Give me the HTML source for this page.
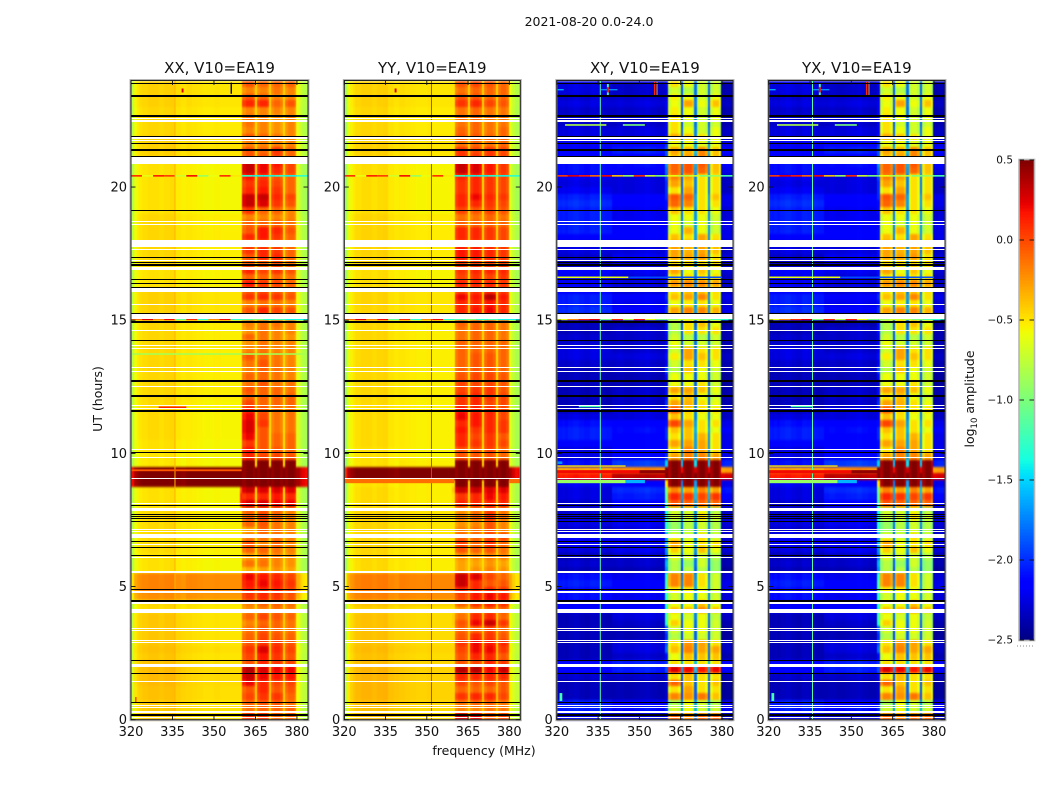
<!DOCTYPE html>
<html lang="en">
<head>
<meta charset="utf-8">
<title>2021-08-20 0.0-24.0</title>
<style>
html,body{margin:0;padding:0;background:#fff;width:1050px;height:800px;overflow:hidden}
svg{display:block}
text{font-family:"DejaVu Sans","Liberation Sans",sans-serif;fill:#111}
</style>
</head>
<body>
<svg id="figure" xmlns="http://www.w3.org/2000/svg" width="1050" height="800" viewBox="0 0 1050 800">
  <defs>
    <filter id="cell-soften" filterUnits="userSpaceOnUse" x="120" y="70" width="840" height="660" color-interpolation-filters="sRGB">
      <feGaussianBlur stdDeviation="0.6 1" edgeMode="duplicate"/>
    </filter>
  </defs>
  <rect x="0" y="0" width="1050" height="800" fill="#fff"/>
  <text x="589" y="26" font-size="12.5" text-anchor="middle">2021-08-20 0.0-24.0</text>
  <text x="484" y="755" font-size="12.5" text-anchor="middle">frequency (MHz)</text>
  <text x="0" y="0" font-size="12.5" text-anchor="middle" transform="translate(102,399) rotate(-90)">UT (hours)</text>
  <text x="0" y="0" font-size="12.5" text-anchor="middle" transform="translate(974,399) rotate(-90)">log<tspan font-size="8.5" dy="3">10</tspan><tspan dy="-3"> amplitude</tspan></text>
  <g id="panels"></g>
  <g id="colorbar"></g>
</svg>
<script>
// Channel edges in MHz and the row-level column that each channel reads from.
const freqEdges = [320,321,322,323,324,326,328,330,332,334,336,338,340,342,344,346,348,350,352,354,356,359.3,360.3,361.5,364,365,365.7,366.7,369,370,370.8,371.8,374,375,375.8,376.8,378.8,379.8,381,382,383,384];
const channelGroup = [0,0,0,0,0,0,0,0,0,0,0,0,1,1,1,1,1,1,1,1,1,6,2,2,2,1,3,3,3,1,4,4,4,1,5,5,5,1,1,1,1];

// Spectral offsets per channel (log10 amplitude).
const shapeXX = [-.3,-.1,-.05,-.02,0,.02,.02,0,.02,.03,-.02,-.04,.03,.02,.01,0,0,.01,0,0,0,0,-.05,.02,-.05,.05,-.05,.02,-.05,.05,-.05,.02,-.05,.05,-.05,.02,-.05,-.1,-.2,-.27,-.3];
const shapeYY = [-.42,-.15,-.07,-.03,0,.02,.02,0,.02,.03,-.02,-.04,.03,.02,.01,0,0,.01,0,0,0,0,-.05,.02,-.05,.05,-.05,.02,-.05,.05,-.05,.02,-.05,.05,-.05,.02,-.05,-.1,-.22,-.3,-.28];
const shapeCross = [-.04,-.07,-.05,-.07,-.04,-.02,-.05,-.07,-.03,-.04,-.06,-.07,-.07,-.05,-.07,-.07,-.05,-.04,-.02,-.05,-.07,0,-.12,.02,-.08,.35,-.08,.02,-.1,.45,-.1,.02,-.1,.4,-.1,.02,-.15,-.15,-.12,-.12,-.12];

// One row per 0.25 h from 0 UT: [low 320-340, low 340-384, block1, block2, block3, block4, shoulder 358-360]
const levelsXX = [
[-.43,-.5,.05,.05,-.1,-.1,-.5],[-.43,-.5,-.15,-.1,-.1,-.1,-.5],[-.42,-.5,-.1,-.05,-.05,-.15,-.5],[-.4,-.48,0,.05,.05,-.1,-.48],
[-.4,-.48,-.05,.1,-.05,-.05,-.48],[-.38,-.47,.2,.1,0,0,-.47],[-.38,-.47,.3,.2,.15,.15,-.47],[-.38,-.47,.35,.25,.2,.2,-.47],
[-.4,-.48,-.05,.1,.05,0,-.48],[-.42,-.5,0,.15,.05,-.05,-.5],[-.4,-.48,.05,.25,.1,0,-.48],[-.42,-.5,-.05,.05,.05,-.05,-.5],
[-.42,-.5,-.1,0,-.05,-.1,-.5],[-.42,-.5,-.15,-.05,-.1,-.15,-.5],[-.42,-.5,-.2,-.1,-.1,-.15,-.5],[-.42,-.5,-.1,0,-.05,-.1,-.5],
[-.48,-.52,-.25,-.2,-.15,-.2,-.52],[-.48,-.52,-.2,-.1,-.1,-.15,-.52],[-.24,-.26,.05,.1,.05,-.05,-.26],[-.2,-.22,.1,.1,.1,0,-.22],
[-.2,-.22,.15,.2,.15,.05,-.22],[-.2,-.22,.2,.15,.1,0,-.22],[-.5,-.56,-.35,-.3,-.25,-.3,-.56],[-.5,-.56,-.15,-.15,-.2,-.25,-.56],
[-.5,-.55,-.3,-.2,-.2,-.25,-.55],[-.48,-.54,-.1,-.1,-.15,-.2,-.54],[-.48,-.54,-.05,-.2,-.1,-.2,-.54],[-.48,-.54,-.2,-.15,-.15,-.2,-.54],
[-.48,-.54,-.3,-.1,-.15,-.2,-.54],[-.48,-.54,-.1,-.05,-.15,-.2,-.54],[-.48,-.54,-.1,0,-.1,-.2,-.54],[-.48,-.54,-.1,-.05,-.1,-.2,-.54],
[-.5,-.56,.25,.25,.2,.2,.1],[-.5,-.56,.1,.1,.15,.1,.1],[-.5,-.56,.3,.25,.25,.25,-.05],[.5,.5,.5,.5,.5,.5,.5],
[.5,.5,.5,.5,.5,.5,.5],[.5,.5,.5,.5,.5,.5,.5],[-.52,-.56,.5,.5,.5,.5,-.56],[-.52,-.56,.1,0,0,-.05,-.56],
[-.5,-.56,.15,-.05,-.05,-.1,-.56],[-.5,-.56,.05,-.05,-.1,-.1,-.56],[-.48,-.55,.2,-.05,-.1,-.1,-.55],[-.48,-.55,.25,-.05,-.15,-.15,-.55],
[-.48,-.55,.25,.05,-.15,-.15,-.55],[-.48,-.55,.2,0,-.15,-.15,-.55],[-.48,-.55,.1,-.05,-.15,-.15,-.55],[-.48,-.55,0,-.1,-.1,-.1,-.55],
[-.47,-.53,-.1,-.1,-.1,-.1,-.53],[-.47,-.53,-.05,-.1,-.1,-.15,-.53],[-.47,-.53,-.15,-.05,-.15,-.15,-.53],[-.47,-.53,-.1,-.1,-.15,-.2,-.53],
[-.47,-.53,-.2,-.1,-.15,-.2,-.53],[-.47,-.53,-.15,-.05,-.15,-.2,-.53],[-.47,-.53,-.05,-.1,-.15,-.2,-.53],[-.47,-.53,-.2,-.15,-.2,-.2,-.53],
[-.47,-.53,-.25,-.15,-.2,-.2,-.53],[-.47,-.53,-.1,-.15,-.2,-.25,-.53],[-.47,-.53,-.25,-.15,-.2,-.2,-.53],[-.47,-.53,-.2,-.15,-.15,-.2,-.53],
[-.47,-.52,-.3,-.2,-.2,-.25,-.52],[-.45,-.5,-.05,.1,0,-.05,-.5],[-.45,-.5,-.2,-.15,-.15,-.2,-.5],[-.45,-.5,.05,.1,.05,-.05,-.5],
[-.45,-.5,-.05,0,-.05,-.1,-.5],[-.5,-.55,.15,.05,0,-.1,-.55],[-.5,-.55,-.1,-.1,-.1,-.15,-.55],[-.5,-.55,.1,0,.05,-.05,-.55],
[-.47,-.53,-.1,-.1,-.05,-.15,-.53],[-.47,-.53,-.05,.1,.1,-.1,-.53],[-.47,-.53,.05,.1,.05,-.1,-.53],[-.47,-.53,-.1,-.1,-.1,-.15,-.53],
[-.47,-.53,.1,.15,.05,-.1,-.53],[-.47,-.53,-.05,.15,.1,-.05,-.53],[-.47,-.53,-.1,-.1,-.1,-.15,-.53],[-.47,-.53,-.2,-.2,-.2,-.2,-.53],
[-.5,-.56,.05,-.1,-.1,-.2,-.56],[-.5,-.56,.3,.25,.05,-.05,-.56],[-.5,-.56,.3,.3,.1,0,-.56],[-.5,-.56,.1,.15,.05,-.1,-.56],
[-.5,-.56,.05,.1,0,-.1,-.56],[-.5,-.56,.15,.05,-.05,-.1,-.56],[-.5,-.56,.3,.2,.1,0,-.56],[-.5,-.56,.3,.2,.15,0,-.56],
[-.45,-.5,-.05,-.05,0,-.1,-.5],[-.45,-.5,-.05,-.1,.05,-.1,-.5],[-.45,-.5,-.2,-.2,-.2,-.2,-.5],[-.45,-.5,-.05,-.1,-.15,-.2,-.5],
[-.47,-.52,-.2,-.2,-.25,-.2,-.52],[-.47,-.52,-.15,-.2,-.25,-.2,-.52],[-.47,-.52,-.15,-.2,-.25,-.2,-.52],[-.47,-.52,-.2,-.2,-.2,-.2,-.52],
[-.45,-.5,.1,.1,-.1,-.05,-.5],[-.45,-.5,-.05,-.1,-.2,-.2,-.5],[-.45,-.5,-.2,-.2,-.15,-.2,-.5],[-.45,-.5,-.05,-.1,-.1,-.1,-.5]
];
const levelsYY = [
[-.4,-.47,.3,.25,-.05,0,-.47],[-.4,-.47,-.2,-.2,-.15,-.15,-.47],[-.38,-.45,-.15,-.1,-.1,-.15,-.45],[-.36,-.44,.05,.1,.1,0,-.44],
[-.36,-.44,-.1,-.1,-.1,-.05,-.44],[-.36,-.44,0,-.05,0,-.05,-.44],[-.36,-.44,.1,.1,.1,.1,-.44],[-.36,-.44,.35,.35,.2,.3,-.44],
[-.38,-.45,-.05,0,.1,.05,-.45],[-.4,-.47,-.05,.1,.1,-.05,-.47],[-.38,-.45,0,.2,.2,.05,-.45],[-.4,-.47,.05,.2,.15,.1,-.47],
[-.4,-.47,-.05,.1,.05,-.05,-.47],[-.4,-.47,-.1,-.1,0,-.1,-.47],[-.4,-.47,-.05,.2,.3,.05,-.42],[-.4,-.47,-.15,.1,.1,-.1,-.42],
[-.46,-.5,-.3,-.15,-.1,-.1,-.5],[-.42,-.45,-.1,.05,.1,.05,-.45],[-.2,-.22,0,.15,.2,.15,-.22],[-.18,-.2,.1,.1,.1,.05,-.2],
[-.18,-.2,.3,.1,-.05,-.05,-.2],[-.18,-.2,.3,.25,0,-.1,-.2],[-.48,-.53,-.3,-.25,-.2,-.25,-.53],[-.48,-.53,-.3,-.3,-.25,-.3,-.53],
[-.47,-.52,-.25,-.25,-.2,-.2,-.52],[-.47,-.52,-.05,-.1,-.05,-.15,-.52],[-.46,-.5,0,-.1,.05,-.1,-.5],[-.46,-.5,-.1,-.1,0,0,-.5],
[-.46,-.5,-.2,-.15,-.05,-.2,-.5],[-.46,-.5,-.25,-.2,-.05,-.2,-.5],[-.46,-.5,-.2,-.1,.05,-.15,-.5],[-.46,-.5,-.25,-.15,0,-.15,-.5],
[-.48,-.53,.1,.1,.1,.1,-.48],[-.48,-.53,.05,.1,.2,.15,-.48],[-.48,-.53,.3,.3,.25,.25,-.4],[-.5,-.53,.5,.5,.5,.5,-.5],
[.5,.5,.5,.5,.5,.5,.5],[.5,.5,.5,.5,.5,.5,.5],[-.5,-.53,.5,.5,.5,.5,-.53],[-.5,-.55,-.05,-.05,-.05,-.1,-.55],
[-.5,-.55,-.05,-.05,0,-.1,-.55],[-.48,-.54,.1,.05,.05,0,-.54],[-.48,-.54,.1,0,.05,-.05,-.54],[-.48,-.54,.15,.05,.1,.05,-.54],
[-.48,-.54,.1,.15,.1,.05,-.54],[-.48,-.54,.2,.15,.1,0,-.54],[-.48,-.54,.15,.1,.1,0,-.54],[-.48,-.54,.05,.1,0,0,-.54],
[-.47,-.53,.05,.1,.05,0,-.53],[-.47,-.53,0,.05,.05,-.05,-.53],[-.47,-.53,0,0,0,-.05,-.53],[-.47,-.53,-.05,0,0,-.05,-.53],
[-.47,-.53,-.1,-.05,-.05,-.1,-.53],[-.47,-.53,-.1,-.05,-.05,-.1,-.53],[-.47,-.53,-.1,-.05,-.05,-.1,-.53],[-.47,-.53,-.1,-.1,-.1,-.1,-.53],
[-.47,-.53,-.1,-.1,-.1,-.1,-.53],[-.47,-.53,-.15,-.1,-.1,-.15,-.53],[-.47,-.53,-.15,-.1,-.1,-.15,-.53],[-.47,-.53,-.1,-.1,-.1,-.15,-.53],
[-.47,-.53,-.15,-.1,-.1,-.1,-.53],[-.46,-.5,.1,.15,.2,.1,-.5],[-.46,-.5,.1,.1,.15,.1,-.5],[-.46,-.5,.2,.15,.35,.15,-.5],
[-.46,-.5,0,.05,.1,.05,-.5],[-.49,-.55,.1,.1,.1,.05,-.55],[-.49,-.55,0,.05,0,.05,-.55],[-.49,-.55,.05,.1,.1,.1,-.55],
[-.46,-.52,0,0,0,0,-.52],[-.46,-.52,.15,.15,.1,.05,-.52],[-.46,-.52,.15,.15,.1,.05,-.52],[-.46,-.52,0,0,0,0,-.52],
[-.46,-.52,.1,.1,.05,0,-.52],[-.46,-.52,.1,.1,.05,0,-.52],[-.46,-.52,-.1,-.1,-.1,-.1,-.52],[-.46,-.52,-.15,-.15,-.1,-.15,-.52],
[-.49,-.55,0,-.05,0,-.05,-.55],[-.49,-.55,.1,.1,.05,0,-.55],[-.49,-.55,.1,.2,.1,.05,-.55],[-.49,-.55,.05,.1,.05,0,-.55],
[-.49,-.55,.05,.1,.05,0,-.55],[-.49,-.55,.1,.1,.05,0,-.55],[-.49,-.55,.3,.25,.15,.05,-.55],[-.49,-.55,.3,.25,.15,.05,-.55],
[-.45,-.5,.05,.05,.05,0,-.5],[-.45,-.5,.05,0,.05,0,-.5],[-.45,-.5,-.15,-.1,-.15,-.1,-.5],[-.45,-.5,-.05,-.05,-.1,-.1,-.5],
[-.47,-.52,-.1,-.1,-.15,-.1,-.52],[-.47,-.52,-.15,-.1,-.15,-.15,-.52],[-.47,-.52,-.15,-.1,-.15,-.15,-.52],[-.47,-.52,-.15,-.1,-.15,-.15,-.52],
[-.45,-.5,.05,.1,0,-.05,-.5],[-.45,-.5,-.05,-.05,-.1,-.1,-.5],[-.45,-.5,-.15,-.1,-.1,-.1,-.5],[-.45,-.5,-.05,0,-.05,-.1,-.5]
];
// The two cross-hands read the same in the picture, so XY and YX share one table.
const levelsCross = [
[-2.2,-2.25,-.1,-.2,-.1,-.1,-2.2],[-2,-2.05,-.7,-.6,-.7,-.7,-2],[-2,-2.1,-.85,-.6,-.7,-.8,-2.1],[-2.3,-2.3,-.2,-.25,-.15,-.4,-2.3],
[-2.3,-2.3,-.5,-.3,-.5,-.5,-2.3],[-2.3,-2.3,-.1,-.4,-.5,-.4,-2.3],[-2.25,-2.25,-.5,-.4,-.5,-.5,-2.2],[-2.1,-2,.25,.2,.15,.2,-1.9],
[-2.1,-2,-.5,-.5,-.5,-.5,-2],[-2.3,-2.25,-.6,-.4,-.4,-.4,-2.1],[-2.3,-2.2,-.4,-.2,-.3,-.3,-1.8],[-2.3,-2.2,-.5,-.25,-.3,-.5,-1.9],
[-2.3,-2.3,-.8,-.7,-.7,-.7,-2],[-2.3,-2.3,-.7,-.6,-.6,-.7,-1.9],[-2.3,-2.25,-.45,-.6,-.6,-.7,-1.3],[-2.3,-2.2,-.6,-.7,-.6,-.75,-1.2],
[-2.1,-2.1,-.4,-.4,-.2,-.4,-1.4],[-2.1,-2.1,-.6,-.6,-.4,-.6,-1.3],[-2.05,-2.15,-.7,-.6,-.6,-.7,-1.3],[-2.05,-2.1,-.55,-.55,-.6,-.7,-1.2],
[-2,-2.1,-.2,-.2,-.5,-.7,-1.2],[-2.05,-2.15,-.2,-.2,-.5,-.7,-1.3],[-2.3,-2.3,-.8,-.8,-.8,-.9,-1.7],[-2.25,-2.25,-.8,-.9,-.7,-.9,-1.6],
[-2.3,-2.25,-.65,-.7,-.7,-.8,-1.8],[-2.2,-2.15,-.45,-.6,-.4,-.6,-1.7],[-2.15,-2.15,-.3,-.6,-.5,-.5,-1.6],[-2.15,-2.15,-.6,-.7,-.5,-.7,-1.7],
[-2.25,-2.2,-.9,-.8,-.7,-.8,-1.3],[-2.2,-2.15,-.9,-.8,-.7,-.8,-1.3],[-2.2,-2.15,-.7,-.7,-.5,-.7,-1.3],[-2.25,-2.2,-.7,-.7,-.6,-.8,-1.4],
[-2.25,-2.1,-.05,-.1,-.1,-.1,-1.2],[-2.2,-2,.1,.05,0,.05,-1.1],[-2.2,-1.95,-.2,-.3,-.2,-.3,-1],[-2.15,-2.1,.5,.5,.5,.5,-.5],
[.2,.4,.5,.5,.5,.5,.5],[-.25,-.15,.5,.5,.5,.5,.5],[-2.05,-1.9,.5,.5,.5,.5,-1.5],[-2.2,-2.1,-.3,-.2,-.2,-.3,-2],
[-2.2,-2.1,-.5,-.2,-.3,-.5,-2.1],[-2.1,-2.1,-.3,-.3,-.3,-.5,-2.1],[-2,-2.1,-.5,-.4,-.35,-.5,-2],[-2,-2.05,-.4,-.4,-.5,-.6,-2],
[-2.05,-2.1,0,-.3,-.5,-.5,-2.1],[-2.2,-2.2,-.4,-.5,-.6,-.6,-2.2],[-2.3,-2.2,0,-.45,-.5,-.5,-2.2],[-2.3,-2.25,-.3,-.35,-.5,-.6,-2],
[-2.3,-2.25,-.5,-.4,-.6,-.7,-2.1],[-2.3,-2.25,-.3,-.3,-.4,-.6,-2.1],[-2.3,-2.3,-.6,-.6,-.5,-.7,-2.3],[-2.3,-2.3,-.6,-.6,-.6,-.7,-2.1],
[-2.3,-2.25,-.8,-.4,-.6,-.7,-1.9],[-2.25,-2.25,-.7,-.5,-.5,-.6,-2.2],[-2.2,-2.2,-.55,-.3,-.4,-.5,-2.1],[-2.2,-2.25,-.7,-.3,-.5,-.5,-2.2],
[-2.25,-2.25,-.6,-.7,-.7,-.7,-2.2],[-2.25,-2.25,-.7,-.8,-.8,-.7,-2.2],[-2.3,-2.25,-.8,-.5,-.5,-.5,-2.1],[-2.3,-2.3,-.8,-.5,-.4,-.6,-2.1],
[-2.3,-2.3,-.5,-.5,-.5,-.5,-2.2],[-1.95,-2.1,-.3,-.2,-.2,-.35,-2],[-2,-2.15,-.6,-.55,-.5,-.6,-2.1],[-2,-2.1,-.4,-.3,-.2,-.5,-2],
[-2.1,-2.2,-.5,-.4,-.4,-.5,-2.1],[-2.15,-2.2,-.25,-.2,-.2,-.3,-2.1],[-2.15,-2.2,-.5,-.5,-.5,-.5,-2.1],[-2.1,-2.15,-.3,-.6,-.4,-.6,-2.1],
[-2.3,-2.2,-.5,-.5,-.5,-.5,-2.2],[-2.25,-2.15,-.3,-.3,-.25,-.5,-2.1],[-2.2,-2.2,-.3,-.35,-.3,-.4,-2.1],[-2.2,-2.2,-.3,-.35,-.3,-.4,-2.1],
[-2.1,-2.1,-.4,-.5,-.3,-.5,-2.1],[-2,-2.1,-.6,-.35,-.6,-.7,-2.1],[-2,-2.1,-.6,-.7,-.6,-.7,-2.2],[-2,-2.15,-.6,-.6,-.6,-.7,-2.2],
[-2,-2.15,-.4,-.5,-.5,-.6,-2.1],[-1.95,-2.1,-.1,-.2,-.5,-.5,-2.1],[-2,-2.1,-.05,-.1,-.5,-.4,-2],[-2.15,-2.2,-.5,-.3,-.5,-.5,-2],
[-2.2,-2.2,-.3,-.4,-.5,-.5,-2],[-2.15,-2.2,-.2,-.3,-.5,-.5,-1.9],[-2.05,-2.1,-.1,-.05,-.1,-.4,-1.8],[-2.05,-2.05,-.1,-.05,-.05,-.4,-1.7],
[-2.1,-2.1,-.4,-.3,-.2,-.4,-1.9],[-2.1,-2,-.3,-.35,-.2,-.4,-1.9],[-2.15,-2.1,-.6,-.6,-.65,-.6,-2],[-2.2,-2.2,-.3,-.4,-.5,-.6,-2.1],
[-2.2,-2.2,-.5,-.6,-.7,-.6,-2.2],[-2.25,-2.25,-.5,-.7,-.7,-.7,-2.2],[-2.25,-2.25,-.5,-.6,-.7,-.6,-2.2],[-2.25,-2.25,-.55,-.6,-.7,-.6,-2.2],
[-2.2,-2.2,-.6,-.3,-.6,-.4,-2.2],[-2.25,-2.25,-.55,-.6,-.7,-.6,-2.25],[-2.2,-2.25,-.7,-.8,-.7,-.7,-2.25],[-2.2,-2.25,-.5,-.6,-.7,-.7,-2.2]
];

// Constant-frequency interference: [panel index, MHz, log10 amplitude]
const rfiChannels = [[0,335.9,-.34],[1,351.7,.08],[2,335.8,-1.15],[3,335.9,-1.15]];
// Localised interference: [panel index, MHz start, MHz end, UT start, UT end, log10 amplitude]
const rfiMarks = [
[0,338.3,339,23.55,23.7,.25],[1,338.3,339,23.55,23.7,.25],[0,356,356.5,23.5,23.92,-2.5],
[2,336,342,23.63,23.68,-1.7],[2,338.2,338.9,23.4,23.9,-1.2],[2,338.2,338.9,23.55,23.75,.2],[2,320.3,322.5,23.63,23.68,-1.6],[2,355.3,355.8,23.42,23.95,.1],[2,356.2,356.6,23.42,23.95,-.2],
[3,336,342,23.63,23.68,-1.7],[3,338.2,338.9,23.4,23.9,-1.2],[3,338.2,338.9,23.55,23.75,.2],[3,320.3,322.5,23.63,23.68,-1.6],[3,355.3,355.8,23.42,23.95,.1],[3,356.2,356.6,23.42,23.95,-.2],
[2,323,338,22.3,22.36,-.8],[3,323,338,22.3,22.36,-.8],[2,344,352,22.3,22.36,-1],[3,344,352,22.3,22.36,-1],
[2,320,346,16.58,16.64,-.6],[3,320,346,16.58,16.64,-.6],[2,346,380,16.58,16.64,-1.9],[3,346,380,16.58,16.64,-1.9],
[0,320,384,13.7,13.76,-.85],[0,330,340,11.7,11.76,.1],[2,328,336,11.73,11.79,-1.2],[3,328,336,11.73,11.79,-1.2],
[2,320,322,9.6,9.7,-1.7],[3,321,322,.7,1,-1.2],[2,321,322,.7,1,-1.2],[0,321.5,322,.65,.85,.05],
[0,320,360,9.33,9.4,-.05],[1,320,360,8.88,9.06,-.12],[1,380,384,8.88,9.06,-.12],
[2,320,345,8.88,9,-.9],[3,320,345,8.88,9,-.9],[2,345,352,8.88,9,-1.6],[3,345,352,8.88,9,-1.6],
[2,320,350,9.25,9.37,.2],[3,320,350,9.25,9.37,.2],[2,350,360,9.25,9.37,.45],[3,350,360,9.25,9.37,.45],
[2,320,345,9.5,9.55,-.5],[3,320,345,9.5,9.55,-.5]
];
// Noisy integrations: log10 amplitude sampled every 4 MHz, for parallel and cross hands
const noisyRowHours = [20.42,15.03];
const noisyParallel = [[.1,-.6,.15,.05,-.7,.2,-.9,-.6,.1,-.5,-1.3,-1.4,-1.4,-1.3,-1.4,-1.3],[-.1,.25,-.2,.2,-1.1,.1,-1.3,-.2,.2,-1.3,-1.2,-1,-1.3,-1.2,-1.4,-1.4]];
const noisyCross = [[.05,.25,.15,-.1,.2,-.4,-.9,.1,-.7,-1,-.6,-.8,-.7,-1,-.9,-1.2],[-.6,-.2,.1,.25,-1,.1,-.8,.15,-.6,-1,-.9,-.7,-.8,-1,-1.2,-1.3]];

// Flagged (blank) integrations: [UT start, UT end]
const whiteGaps = [[.06,.1],[.25,.31],[.43,.47],[.52,.56],[1.42,1.46],[1.97,2.1],[2.88,2.92],[2.97,3.01],[3.32,3.36],[3.41,3.45],[4.01,4.15],[4.33,4.41],[4.75,4.79],[4.81,4.85],[5.51,5.57],[6.08,6.12],[6.56,6.6],[6.82,6.97],[7.03,7.07],[7.12,7.16],[7.85,7.94],[8.1,8.14],[9.04,9.08],[9.83,9.87],[10.13,10.17],[11.66,11.7],[11.76,11.8],[12.5,12.54],[13.06,13.1],[13.19,13.23],[13.93,13.97],[14.03,14.07],[14.6,14.64],[15.03,15.26],[15.57,15.61],[16.05,16.24],[16.87,16.98],[17.23,17.27],[17.63,17.67],[17.74,18],[18.57,18.61],[18.67,18.71],[20.85,21.11],[21.71,21.75],[21.82,21.86],[22.46,22.5],[22.56,22.6]];
// Dark dropout lines: [UT centre, width in hours]
const darkLines = [[.17,.07],[.65,.05],[1.74,.05],[2.23,.05],[4.47,.08],[4.88,.05],[6.17,.05],[6.47,.05],[6.69,.05],[7.46,.05],[7.54,.05],[7.62,.05],[7.69,.05],[8.03,.05],[10.03,.05],[11.59,.08],[12.16,.08],[12.72,.08],[14.24,.05],[14.93,.08],[15.25,.05],[16.22,.05],[16.38,.05],[16.53,.05],[17.06,.08],[17.15,.05],[17.35,.05],[19.11,.05],[21.13,.05],[21.38,.08],[21.63,.05],[21.91,.05],[22.66,.08],[23.41,.08],[23.88,.04]];

// Axis tick values
const xTickValues = [320,335,350,365,380];
const yTickValues = [0,5,10,15,20];
const colorbarTickValues = [.5,0,-.5,-1,-1.5,-2,-2.5];
const colorbarTickLabels = ['0.5','0.0','\u22120.5','\u22121.0','\u22121.5','\u22122.0','\u22122.5'];

// Layout
const plotTop = 80.5, plotBottom = 719.7, freqMin = 320, freqMax = 384, utMin = 0, utMax = 24, rowStep = 0.25;
const vMin = -2.5, vMax = 0.5;
const panelConfigs = [
  {id:'xx',title:'XX, V10=EA19',left:131,right:308,levels:levelsXX,shape:shapeXX,noisy:noisyParallel},
  {id:'yy',title:'YY, V10=EA19',left:344.3,right:520.3,levels:levelsYY,shape:shapeYY,noisy:noisyParallel},
  {id:'xy',title:'XY, V10=EA19',left:556.8,right:733,levels:levelsCross,shape:shapeCross,noisy:noisyCross},
  {id:'yx',title:'YX, V10=EA19',left:768.7,right:945,levels:levelsCross,shape:shapeCross,noisy:noisyCross}
];

const SVG_NS = 'http://www.w3.org/2000/svg';
function svgEl(tag, attrs, parent){
  const el = document.createElementNS(SVG_NS, tag);
  for (const k in attrs) el.setAttribute(k, attrs[k]);
  parent.appendChild(el);
  return el;
}
const jetRed = [[0,0],[.35,0],[.66,1],[.89,1],[1,.5]];
const jetGreen = [[0,0],[.125,0],[.375,1],[.64,1],[.91,0],[1,0]];
const jetBlue = [[0,.5],[.11,1],[.34,1],[.65,0],[1,0]];
function jetChannel(anchors, t){
  for (let i = 1; i < anchors.length; i++){
    if (t <= anchors[i][0]){
      const a = anchors[i-1], b = anchors[i];
      return a[1] + (b[1]-a[1]) * (t-a[0]) / (b[0]-a[0]);
    }
  }
  return anchors[anchors.length-1][1];
}
function colorScale(v){
  const t = Math.max(0, Math.min(1, (v - vMin) / (vMax - vMin)));
  const to255 = c => Math.round(c * 255);
  return 'rgb(' + to255(jetChannel(jetRed,t)) + ',' + to255(jetChannel(jetGreen,t)) + ',' + to255(jetChannel(jetBlue,t)) + ')';
}
function yScale(ut){ return plotBottom - (ut - utMin) / (utMax - utMin) * (plotBottom - plotTop); }
function xScale(p, mhz){ return p.left + (mhz - freqMin) / (freqMax - freqMin) * (p.right - p.left); }

const panelsRoot = document.getElementById('panels');
panelConfigs.forEach(function(p, panelIndex){
  const g = svgEl('g', {}, panelsRoot);
  
  

  const cells = svgEl('g', {'shape-rendering':'crispEdges', filter:'url(#cell-soften)'}, g);
  
  
  p.levels.forEach(function(row, r){
    const y1 = Math.round(yScale(r * rowStep));
    const y0 = Math.round(yScale((r + 1) * rowStep));
    channelGroup.forEach(function(group, c){
      const x0 = Math.round(xScale(p, freqEdges[c]));
      const x1 = Math.round(xScale(p, freqEdges[c+1]));
      const cell = svgEl('rect', {x:x0, y:y0, width:x1-x0, height:y1-y0, fill:colorScale(row[group] + p.shape[c])}, cells);
      
      
    });
  });

  noisyRowHours.forEach(function(ut, n){
    const samples = p.noisy[n];
    samples.forEach(function(v, i){
      const a = freqMin + i * (freqMax - freqMin) / samples.length;
      const b = freqMin + (i + 1) * (freqMax - freqMin) / samples.length;
      const seg = svgEl('rect', {x:xScale(p,a), y:yScale(ut+.03), width:xScale(p,b)-xScale(p,a), height:yScale(ut-.03)-yScale(ut+.03), fill:colorScale(v)}, g);
      
      
    });
  });

  rfiChannels.filter(function(m){ return m[0] === panelIndex; }).forEach(function(m){
    const line = svgEl('rect', {x:xScale(p,m[1])-.5, y:plotTop, width:1, height:plotBottom-plotTop, fill:colorScale(m[2])}, g);
    
    
  });
  rfiMarks.filter(function(m){ return m[0] === panelIndex; }).forEach(function(m){
    const mark = svgEl('rect', {x:xScale(p,m[1]), y:yScale(m[4]), width:xScale(p,m[2])-xScale(p,m[1]), height:yScale(m[3])-yScale(m[4]), fill:colorScale(m[5])}, g);
    
    
  });

  whiteGaps.forEach(function(gap){
    const top = Math.round(yScale(gap[1]));
    const bottom = Math.round(yScale(gap[0]));
    const el = svgEl('rect', {x:p.left, y:top, width:p.right-p.left, height:Math.max(1, bottom-top), fill:'#fff', 'shape-rendering':'crispEdges'}, g);
    
    
  });
  darkLines.forEach(function(line){
    const px = Math.max(1, Math.round(line[1] / (utMax - utMin) * (plotBottom - plotTop)));
    const el = svgEl('rect', {x:p.left, y:Math.round(yScale(line[0]) - px / 2), width:p.right-p.left, height:px, fill:'#000', 'shape-rendering':'crispEdges'}, g);
    
    
  });

  const halo = svgEl('rect', {x:p.left-.5, y:plotTop-.5, width:p.right-p.left+1, height:plotBottom-plotTop+1, fill:'none', stroke:'#b5b5b5', 'stroke-width':2}, g);
  
  
  const frame = svgEl('rect', {x:p.left, y:plotTop, width:p.right-p.left, height:plotBottom-plotTop, fill:'none', stroke:'#222', 'stroke-width':1}, g);
  
  

  const title = svgEl('text', {x:(p.left+p.right)/2, y:73, 'font-size':15, 'text-anchor':'middle'}, g);
  title.textContent = p.title;
  
  

  xTickValues.forEach(function(v){
    const x = xScale(p, v);
    const tickB = svgEl('line', {x1:x, x2:x, y1:plotBottom, y2:plotBottom-4.5, stroke:'#111', 'stroke-width':.9}, g);
    
    
    const tickT = svgEl('line', {x1:x, x2:x, y1:plotTop, y2:plotTop+4.5, stroke:'#111', 'stroke-width':.9}, g);
    
    
    const label = svgEl('text', {x:x, y:736, 'font-size':13, 'text-anchor':'middle'}, g);
    label.textContent = String(v);
    
    
  });
  yTickValues.forEach(function(v){
    const y = yScale(v);
    const tickL = svgEl('line', {x1:p.left, x2:p.left+4.5, y1:y, y2:y, stroke:'#111', 'stroke-width':.9}, g);
    
    
    const tickR = svgEl('line', {x1:p.right, x2:p.right-4.5, y1:y, y2:y, stroke:'#111', 'stroke-width':.9}, g);
    
    
    const label = svgEl('text', {x:p.left-4, y:y+4.5, 'font-size':13, 'text-anchor':'end'}, g);
    label.textContent = String(v);
    
    
  });
});

// Colorbar
const cbRoot = document.getElementById('colorbar');
const cbLeft = 1019.5, cbRight = 1034, cbTop = 160, cbBottom = 640, cbSteps = 160;
function cbScale(v){ return cbBottom - (v - vMin) / (vMax - vMin) * (cbBottom - cbTop); }
for (let i = 0; i < cbSteps; i++){
  const v0 = vMin + (vMax - vMin) * i / cbSteps;
  const v1 = vMin + (vMax - vMin) * (i + 1) / cbSteps;
  const strip = svgEl('rect', {x:cbLeft, y:cbScale(v1), width:cbRight-cbLeft, height:cbScale(v0)-cbScale(v1)+.5, fill:colorScale((v0+v1)/2)}, cbRoot);
  
  
}
const cbHalo = svgEl('rect', {x:cbLeft-.5, y:cbTop-.5, width:cbRight-cbLeft+1, height:cbBottom-cbTop+1, fill:'none', stroke:'#b5b5b5', 'stroke-width':1.6}, cbRoot);


colorbarTickValues.forEach(function(v, i){
  const y = cbScale(v);
  const tickL = svgEl('line', {x1:cbLeft, x2:cbLeft+4.5, y1:y, y2:y, stroke:'#111', 'stroke-width':.9}, cbRoot);
  
  
  const tickR = svgEl('line', {x1:cbRight, x2:cbRight-4.5, y1:y, y2:y, stroke:'#111', 'stroke-width':.9}, cbRoot);
  
  
  const label = svgEl('text', {x:1013, y:y+3.5, 'font-size':10.5, 'text-anchor':'end'}, cbRoot);
  label.textContent = colorbarTickLabels[i];
  
  
});
const cbDots = svgEl('line', {x1:1017, x2:1034, y1:646, y2:646, stroke:'#888', 'stroke-width':1, 'stroke-dasharray':'1 2'}, cbRoot);


</script>
</body>
</html>
